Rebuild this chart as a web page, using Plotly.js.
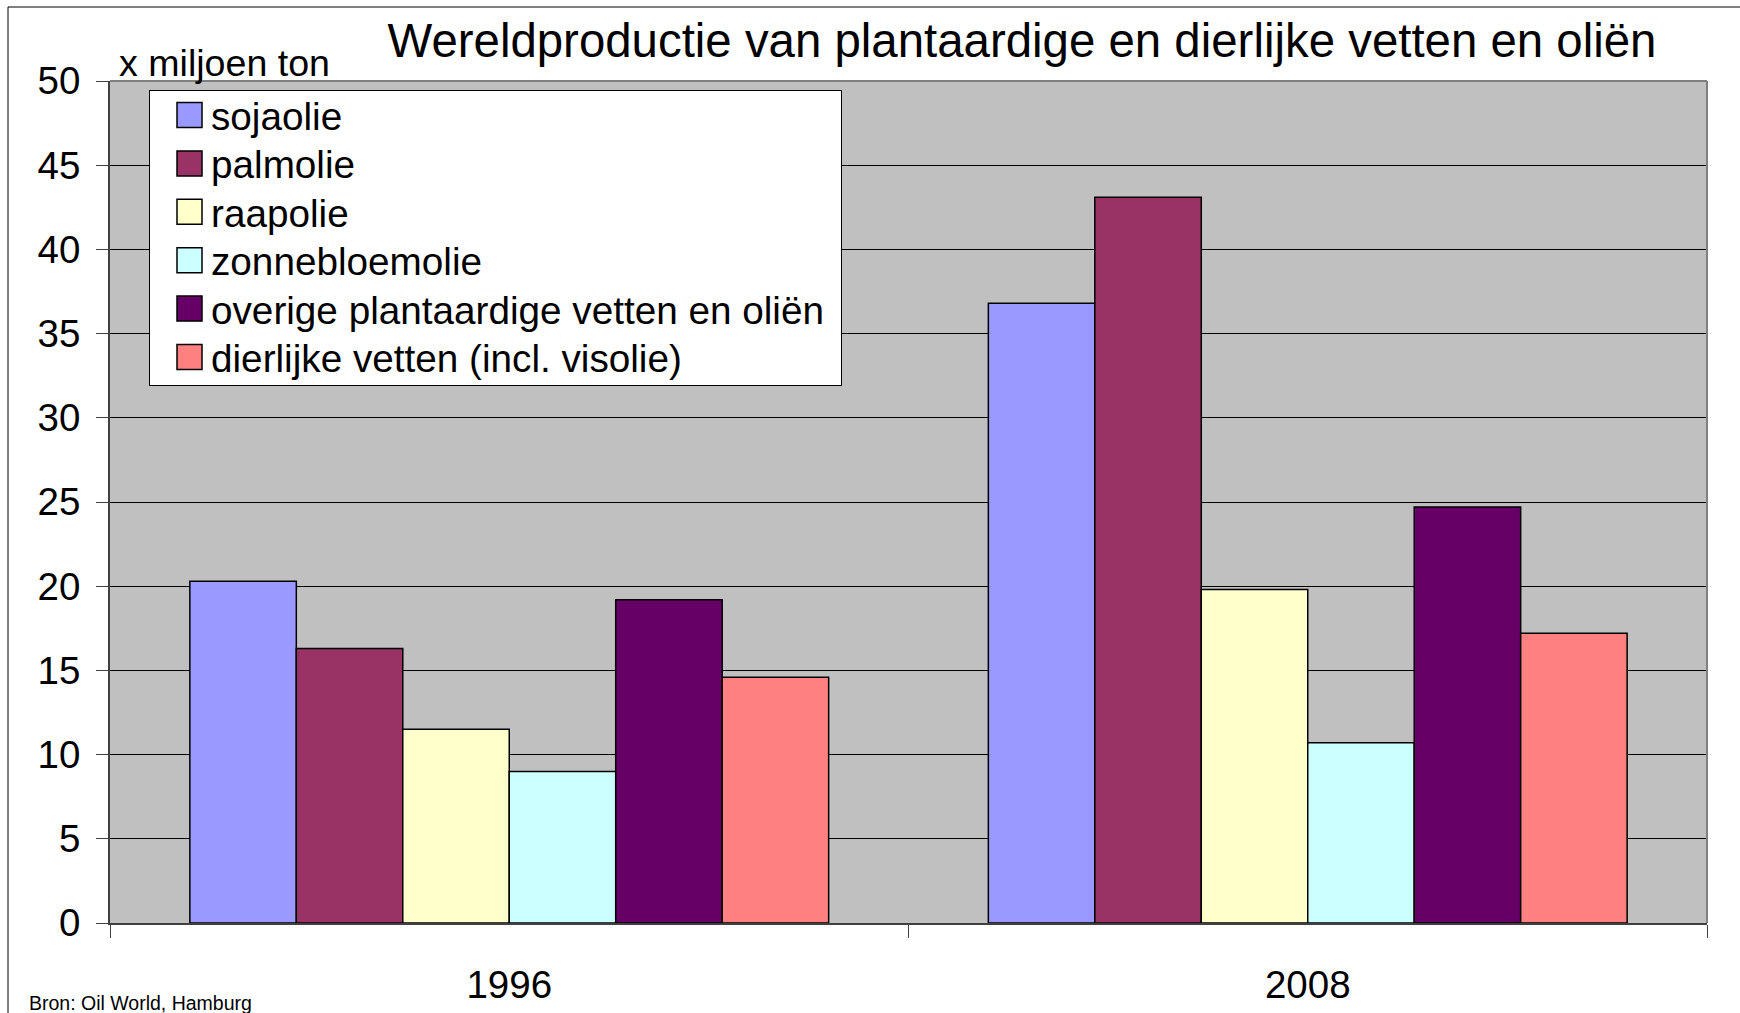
<!DOCTYPE html>
<html>
<head>
<meta charset="utf-8">
<script src="https://cdn.plot.ly/plotly-3.0.1.min.js"></script>
<style>
  html, body { margin: 0; padding: 0; background: #ffffff; }
  #chart { width: 1740px; height: 1013px; }
</style>
</head>
<body>
<div id="chart"></div>
<script>
// ---- data ----
const years = ["1996", "2008"];
const seriesNames = [
  "sojaolie",
  "palmolie",
  "raapolie",
  "zonnebloemolie",
  "overige plantaardige vetten en oliën",
  "dierlijke vetten (incl. visolie)"
];
const sojaolie = [20.3, 36.8];
const palmolie = [16.3, 43.1];
const raapolie = [11.5, 19.8];
const zonnebloemolie = [9.0, 10.7];
const overige = [19.2, 24.7];
const dierlijke = [14.6, 17.2];
const seriesColors = ["#9999FF", "#993366", "#FFFFCC", "#CCFFFF", "#660066", "#FF8080"];
const yTickVals = [0, 5, 10, 15, 20, 25, 30, 35, 40, 45, 50];

const titleText = "Wereldproductie van plantaardige en dierlijke vetten en oliën";
const yUnitText = "x miljoen ton";
const sourceText = "Bron: Oil World, Hamburg";

// ---- build ----
const FONT = "'Liberation Sans', Arial, sans-serif";
const allValues = [sojaolie, palmolie, raapolie, zonnebloemolie, overige, dierlijke];

const traces = allValues.map((vals, i) => ({
  type: "bar",
  name: seriesNames[i],
  x: years,
  y: vals,
  marker: { color: seriesColors[i], line: { color: "#000000", width: 1.5 } },
  hoverinfo: "x+y+name"
}));

const layout = {
  width: 1740,
  height: 1013,
  margin: { l: 110, r: 33, t: 81, b: 90, pad: 0 },
  paper_bgcolor: "#ffffff",
  plot_bgcolor: "#C0C0C0",
  font: { family: FONT, color: "#000000", size: 38.5 },
  barmode: "group",
  bargap: 0.2,
  bargroupgap: 0,
  title: {
    text: titleText,
    font: { family: FONT, size: 47.4, color: "#000000" },
    xref: "container",
    yref: "container",
    x: 1022 / 1740,
    xanchor: "center",
    y: 1 - 40 / 1013,
    yanchor: "middle"
  },
  xaxis: {
    type: "category",
    tickson: "boundaries",
    ticks: "outside",
    ticklen: 13,
    tickwidth: 1,
    tickcolor: "#404040",
    showline: true,
    linecolor: "#404040",
    linewidth: 2,
    showgrid: false,
    zeroline: false,
    tickfont: { family: FONT, size: 38.5, color: "#000000" },
    ticklabelstandoff: 27
  },
  yaxis: {
    range: [0, 50],
    tickvals: yTickVals,
    ticktext: yTickVals.map(String),
    ticks: "outside",
    ticklen: 12,
    tickwidth: 1,
    tickcolor: "#404040",
    showline: true,
    linecolor: "#404040",
    linewidth: 2,
    showgrid: true,
    gridcolor: "#000000",
    gridwidth: 1,
    zeroline: false,
    tickfont: { family: FONT, size: 38.5, color: "#000000" },
    ticklabelstandoff: 8
  },
  legend: {
    x: (149 - 110) / 1597,
    y: (923 - 90) / 842,
    xanchor: "left",
    yanchor: "top",
    bgcolor: "#ffffff",
    bordercolor: "#000000",
    borderwidth: 1,
    itemwidth: 51,
    font: { family: FONT, size: 38.7, color: "#000000" },
    traceorder: "normal"
  },
  shapes: [
    // plot area top and right border (grey)
    { type: "line", xref: "paper", yref: "paper", x0: 0, x1: 1, y0: 1, y1: 1,
      line: { color: "#808080", width: 2 }, layer: "above" },
    { type: "line", xref: "paper", yref: "paper", x0: 1, x1: 1, y0: 0, y1: 1,
      line: { color: "#808080", width: 2 }, layer: "above" },
    // outer chart frame (left and top edges visible)
    { type: "line", xref: "paper", yref: "paper",
      x0: (8 - 110) / 1597, x1: (8 - 110) / 1597, y0: (923 - 7) / 842, y1: (923 - 1013) / 842,
      line: { color: "#000000", width: 1 }, layer: "above" },
    { type: "line", xref: "paper", yref: "paper",
      x0: (8 - 110) / 1597, x1: (1740 - 110) / 1597, y0: (923 - 7) / 842, y1: (923 - 7) / 842,
      line: { color: "#000000", width: 1 }, layer: "above" }
  ],
  annotations: [
    { text: yUnitText, xref: "paper", yref: "paper",
      x: (117 - 110) / 1597, y: 1, yshift: -5, xanchor: "left", yanchor: "bottom",
      showarrow: false, font: { family: FONT, size: 37.6, color: "#000000" } },
    { text: sourceText, xref: "paper", yref: "paper",
      x: (27 - 110) / 1597, y: (923 - 1003) / 842, xanchor: "left", yanchor: "middle",
      showarrow: false, font: { family: FONT, size: 19.5, color: "#000000" } }
  ]
};

Plotly.newPlot("chart", traces, layout, { displayModeBar: false, staticPlot: true }).then(() => {
  const legend = document.querySelector(".legend");
  if (!legend) return;
  // larger square swatches, like the reference legend keys
  legend.querySelectorAll(".legendpoints path").forEach(p => {
    p.setAttribute("d", "M21.5,12.5H-3.5V-12.5H21.5Z");
  });
  // tighter row spacing as in the reference legend
  const rowStep = 48.4, firstRow = 25;
  legend.querySelectorAll(".traces").forEach((g, i) => {
    const t = g.getAttribute("transform") || "";
    const m = t.match(/translate\(\s*([-\d.]+)[ ,]+([-\d.]+)\s*\)/);
    const x = m ? parseFloat(m[1]) : 1;
    g.setAttribute("transform", "translate(" + x + "," + (firstRow + i * rowStep) + ")");
  });
  const bg = legend.querySelector("rect.bg");
  if (bg) {
    bg.setAttribute("height", 295);
    bg.setAttribute("width", 692);
  }
});
</script>
</body>
</html>
